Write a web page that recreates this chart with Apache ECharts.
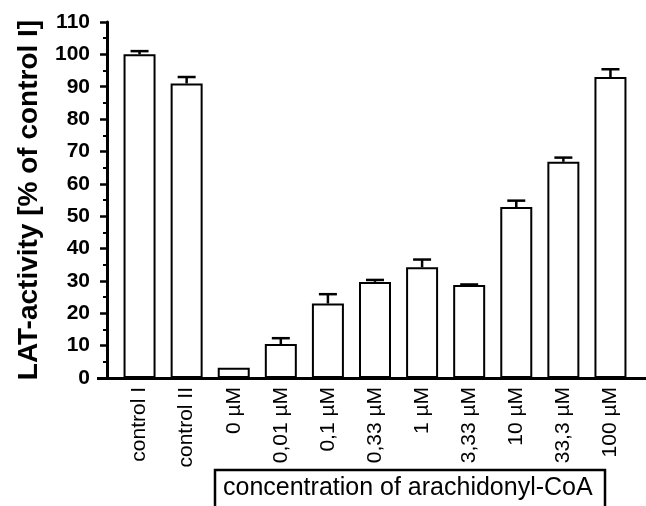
<!DOCTYPE html>
<html>
<head>
<meta charset="utf-8">
<script src="https://cdn.jsdelivr.net/npm/echarts@6/dist/echarts.min.js"></script>
<style>html,body{margin:0;padding:0;background:#fff;}#c{width:646px;height:506px;}</style>
</head>
<body>
<div id="c"></div>
<script>
var categories = ['control I', 'control II', '0 µM', '0,01 µM', '0,1 µM', '0,33 µM', '1 µM', '3,33 µM', '10 µM', '33,3 µM', '100 µM'];
var means = [100, 91, 3.2, 10.5, 23, 29.7, 34.2, 28.7, 52.8, 66.8, 93];
var errors = [1, 2, 0, 1.8, 2.9, 0.6, 2.4, 0.2, 2, 1.3, 2.4];
var yTicks = {min: 0, max: 110, interval: 10};
var yName = 'LAT-activity [% of control I]';
var boxText = 'concentration of arachidonyl-CoA';

var FONT = '"Liberation Sans", Arial, sans-serif';
var chart = echarts.init(document.getElementById('c'), null, {renderer: 'canvas'});
var errData = means.map(function (m, i) { return [i, m, m + errors[i]]; });

chart.setOption({
  animation: false,
  backgroundColor: '#fff',
  grid: {left: 116, right: 12, top: 22, bottom: 128},
  xAxis: {
    type: 'category',
    data: categories,
    axisLine: {show: false},
    axisTick: {show: false},
    axisLabel: {rotate: 90, fontSize: 21, fontFamily: FONT, color: '#000', margin: 9, interval: 0}
  },
  yAxis: {
    type: 'value',
    min: yTicks.min, max: yTicks.max, interval: yTicks.interval,
    offset: 9,
    name: yName,
    nameLocation: 'middle',
    nameRotate: 90,
    nameGap: 64,
    nameTextStyle: {fontSize: 28, fontWeight: 'bold', fontFamily: FONT, color: '#000'},
    axisLine: {show: true, lineStyle: {color: '#000', width: 3}},
    axisTick: {show: true, length: 7, lineStyle: {color: '#000', width: 2.5}},
    minorTick: {show: true, splitNumber: 2, length: 4, lineStyle: {color: '#000', width: 2}},
    splitLine: {show: false},
    axisLabel: {fontSize: 21, fontWeight: 'bold', fontFamily: FONT, color: '#000', margin: 17}
  },
  series: [
    {
      type: 'bar',
      data: means,
      barWidth: 32,
      itemStyle: {color: '#fff', borderColor: '#000', borderWidth: 2},
      z: 2
    },
    {
      type: 'custom',
      data: errData,
      z: 3,
      renderItem: function (params, api) {
        var i = api.value(0);
        var lo = api.coord([i, api.value(1)]);
        var hi = api.coord([i, api.value(2)]);
        if (Math.abs(lo[1] - hi[1]) < 0.5) return null;
        var st = {stroke: '#000', lineWidth: 2.5};
        return {
          type: 'group',
          children: [
            {type: 'line', shape: {x1: lo[0], y1: lo[1], x2: hi[0], y2: hi[1]}, style: st},
            {type: 'line', shape: {x1: hi[0] - 9, y1: hi[1], x2: hi[0] + 9, y2: hi[1]}, style: st}
          ]
        };
      }
    }
  ]
});

var y0 = chart.convertToPixel({yAxisIndex: 0}, 0);
chart.setOption({
  graphic: [
    {type: 'line', z: 10, shape: {x1: 97, y1: y0 + 0.5, x2: 646, y2: y0 + 0.5}, style: {stroke: '#000', lineWidth: 3}},
    {type: 'rect', z: 10, shape: {x: 215, y: 470, width: 390, height: 60}, style: {fill: '#fff', stroke: '#000', lineWidth: 2.5}},
    {type: 'text', z: 11, left: 223, top: 476, style: {text: boxText, font: '25px ' + FONT, fill: '#000'}}
  ]
});
</script>
</body>
</html>
